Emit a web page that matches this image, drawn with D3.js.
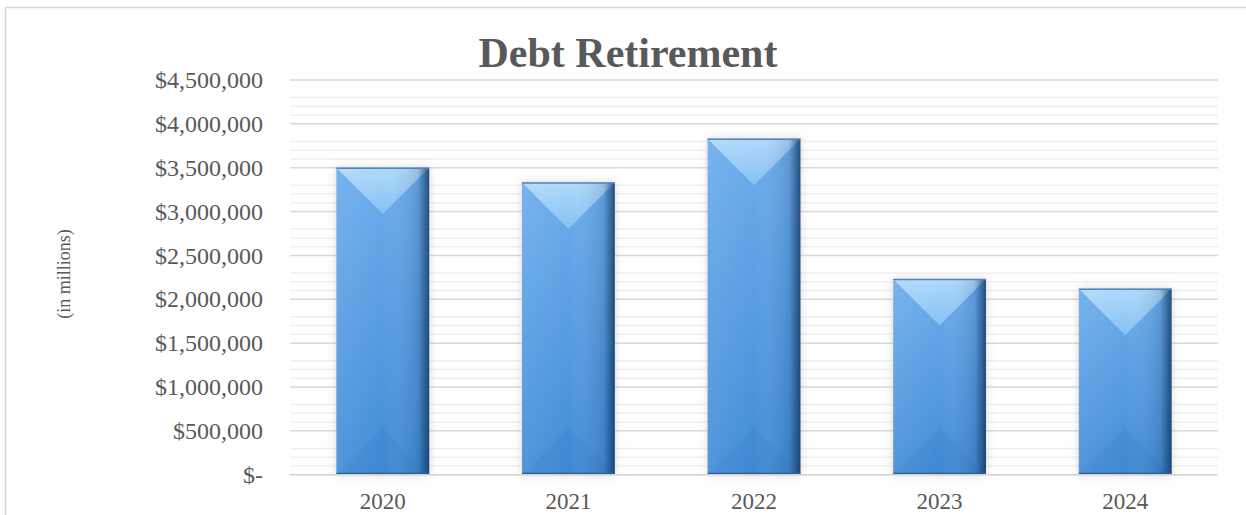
<!DOCTYPE html>
<html>
	<head>
		<meta charset="utf-8">
		<title>Debt Retirement</title>
		<script type="text/javascript" src="https://cdn.jsdelivr.net/npm/d3@7"></script>
		<style type="text/css">
			body{
				margin: 0;
				background: #fff;
			}
			svg{
				display: block;
			}
			text{
				font-family: "Liberation Serif", "Times New Roman", serif;
			}
		</style>
	</head>
	<body>
		<div id="chart"></div>
	</body>
	<script type="text/javascript">

		// data
		const years = ["2020", "2021", "2022", "2023", "2024"];
		const retired = [3500000, 3330000, 3830000, 2230000, 2120000];
		const yTicks = [0, 500000, 1000000, 1500000, 2000000, 2500000, 3000000, 3500000, 4000000, 4500000];
		const minorSteps = [100000, 200000, 300000];

		const w = 1246, h = 515;
		const plotLeft = 290, plotRight = 1218, plotTop = 80, plotBottom = 474.7;

		let svg = d3.select("#chart")
					.append("svg")
					.attr("width", w)
					.attr("height", h);

		let defs = svg.append("defs");

		// body gradient: lighter at top, deeper blue at the foot
		let body = defs.append("linearGradient")
					.attr("id", "body")
					.attr("x1", 0).attr("y1", 0).attr("x2", 0).attr("y2", 1);
		body.append("stop").attr("offset", "0%").attr("stop-color", "#6cadec");
		body.append("stop").attr("offset", "100%").attr("stop-color", "#428cd6");

		// side shading, dark strip on the right edge
		let side = defs.append("linearGradient")
					.attr("id", "side")
					.attr("x1", 0).attr("y1", 0).attr("x2", 1).attr("y2", 0);
		side.append("stop").attr("offset", "0%").attr("stop-color", "#ffffff").attr("stop-opacity", 0.08);
		side.append("stop").attr("offset", "50%").attr("stop-color", "#ffffff").attr("stop-opacity", 0);
		side.append("stop").attr("offset", "88%").attr("stop-color", "#0d2f57").attr("stop-opacity", 0.15);
		side.append("stop").attr("offset", "94%").attr("stop-color", "#0d2f57").attr("stop-opacity", 0.45);
		side.append("stop").attr("offset", "100%").attr("stop-color", "#0d2f57").attr("stop-opacity", 0.75);

		let topTri = defs.append("linearGradient")
					.attr("id", "topTri")
					.attr("x1", 0).attr("y1", 0).attr("x2", 0).attr("y2", 1);
		topTri.append("stop").attr("offset", "0%").attr("stop-color", "#b0d9fb");
		topTri.append("stop").attr("offset", "100%").attr("stop-color", "#86c1f3");

		let shadow = defs.append("filter")
					.attr("id", "shadow")
					.attr("x", "-20%").attr("y", "-20%")
					.attr("width", "140%").attr("height", "140%");
		shadow.append("feDropShadow")
			.attr("dx", 0).attr("dy", 0)
			.attr("stdDeviation", 4)
			.attr("flood-color", "#9a8f80")
			.attr("flood-opacity", 0.35);

		// chart frame
		svg.append("rect")
			.attr("x", 5.5)
			.attr("y", 7.5)
			.attr("width", 1260)
			.attr("height", 520)
			.attr("fill", "none")
			.attr("stroke", "#d9d9d9")
			.attr("stroke-width", 1.5);

		let xScale = d3.scaleBand()
					.domain(years)
					.range([plotLeft, plotRight])
					.paddingInner(0.5)
					.paddingOuter(0.25);

		let yScale = d3.scaleLinear()
					.domain([0, 4500000])
					.range([plotBottom, plotTop]);

		// minor gridlines
		let minors = [];
		yTicks.slice(0, -1).forEach(function(t){
			minorSteps.forEach(function(s){ minors.push(t + s); });
		});

		svg.append("g")
			.selectAll("line")
			.data(minors)
			.enter()
			.append("line")
			.attr("x1", plotLeft)
			.attr("x2", plotRight)
			.attr("y1", function(d){ return yScale(d); })
			.attr("y2", function(d){ return yScale(d); })
			.attr("stroke", "#efefef")
			.attr("stroke-width", 1.5);

		// major gridlines
		svg.append("g")
			.selectAll("line")
			.data(yTicks.slice(1))
			.enter()
			.append("line")
			.attr("x1", plotLeft)
			.attr("x2", plotRight)
			.attr("y1", function(d){ return yScale(d); })
			.attr("y2", function(d){ return yScale(d); })
			.attr("stroke", "#d9d9d9")
			.attr("stroke-width", 1.5);

		// y axis labels
		let yAxis = d3.axisLeft(yScale)
					.tickValues(yTicks)
					.tickSize(0)
					.tickPadding(27)
					.tickFormat(function(d){
						return d === 0 ? "$-" : "$" + d3.format(",")(d);
					});

		let gy = svg.append("g")
					.attr("transform", "translate(" + plotLeft + ",0)")
					.call(yAxis);
		gy.select(".domain").remove();
		gy.selectAll("text")
			.attr("font-family", "Liberation Serif, Times New Roman, serif")
			.attr("font-size", "24px")
			.attr("fill", "#595959");

		// bars
		let bars = svg.append("g")
					.selectAll("g")
					.data(years)
					.enter()
					.append("g")
					.attr("filter", "url(#shadow)");

		bars.append("rect")
			.attr("x", function(d){ return xScale(d); })
			.attr("y", function(d, i){ return yScale(retired[i]); })
			.attr("width", xScale.bandwidth())
			.attr("height", function(d, i){ return plotBottom - yScale(retired[i]); })
			.attr("fill", "url(#body)");

		// bottom bevel, only faintly different
		bars.append("polygon")
			.attr("points", function(d){
				const x0 = xScale(d), bw = xScale.bandwidth();
				return [[x0, plotBottom], [x0 + bw, plotBottom], [x0 + bw / 2, plotBottom - bw / 2]].join(" ");
			})
			.attr("fill", "#3a82cb")
			.attr("opacity", 0.35);

		// top bevel
		bars.append("polygon")
			.attr("points", function(d, i){
				const x0 = xScale(d), bw = xScale.bandwidth(), y0 = yScale(retired[i]);
				return [[x0, y0], [x0 + bw, y0], [x0 + bw / 2, y0 + bw / 2]].join(" ");
			})
			.attr("fill", "url(#topTri)");

		bars.append("rect")
			.attr("x", function(d){ return xScale(d); })
			.attr("y", function(d, i){ return yScale(retired[i]); })
			.attr("width", xScale.bandwidth())
			.attr("height", function(d, i){ return plotBottom - yScale(retired[i]); })
			.attr("fill", "url(#side)");

		// top and bottom edges
		bars.append("line")
			.attr("x1", function(d){ return xScale(d); })
			.attr("x2", function(d){ return xScale(d) + xScale.bandwidth(); })
			.attr("y1", function(d, i){ return yScale(retired[i]) + 0.5; })
			.attr("y2", function(d, i){ return yScale(retired[i]) + 0.5; })
			.attr("stroke", "#4f86bd")
			.attr("stroke-width", 1.5);

		bars.append("line")
			.attr("x1", function(d){ return xScale(d); })
			.attr("x2", function(d){ return xScale(d) + xScale.bandwidth(); })
			.attr("y1", plotBottom - 1)
			.attr("y2", plotBottom - 1)
			.attr("stroke", "#2a5f96")
			.attr("stroke-width", 2);

		// baseline
		svg.append("line")
			.attr("x1", plotLeft)
			.attr("x2", plotRight)
			.attr("y1", plotBottom)
			.attr("y2", plotBottom)
			.attr("stroke", "#d0d0d0")
			.attr("stroke-width", 1.5);

		// x axis labels
		let xAxis = d3.axisBottom(xScale)
					.tickSize(0)
					.tickPadding(18);

		let gx = svg.append("g")
					.attr("transform", "translate(0," + plotBottom + ")")
					.call(xAxis);
		gx.select(".domain").remove();
		gx.selectAll("text")
			.attr("font-family", "Liberation Serif, Times New Roman, serif")
			.attr("font-size", "23px")
			.attr("fill", "#595959");

		// title
		svg.append("text")
			.text("Debt Retirement")
			.attr("x", 628)
			.attr("y", 67)
			.attr("text-anchor", "middle")
			.attr("font-size", "42px")
			.attr("font-weight", "bold")
			.attr("fill", "#595959");

		// y axis title
		svg.append("text")
			.text("(in millions)")
			.attr("transform", "translate(70,274) rotate(-90)")
			.attr("text-anchor", "middle")
			.attr("font-size", "18px")
			.attr("fill", "#595959");

	</script>
</html>
